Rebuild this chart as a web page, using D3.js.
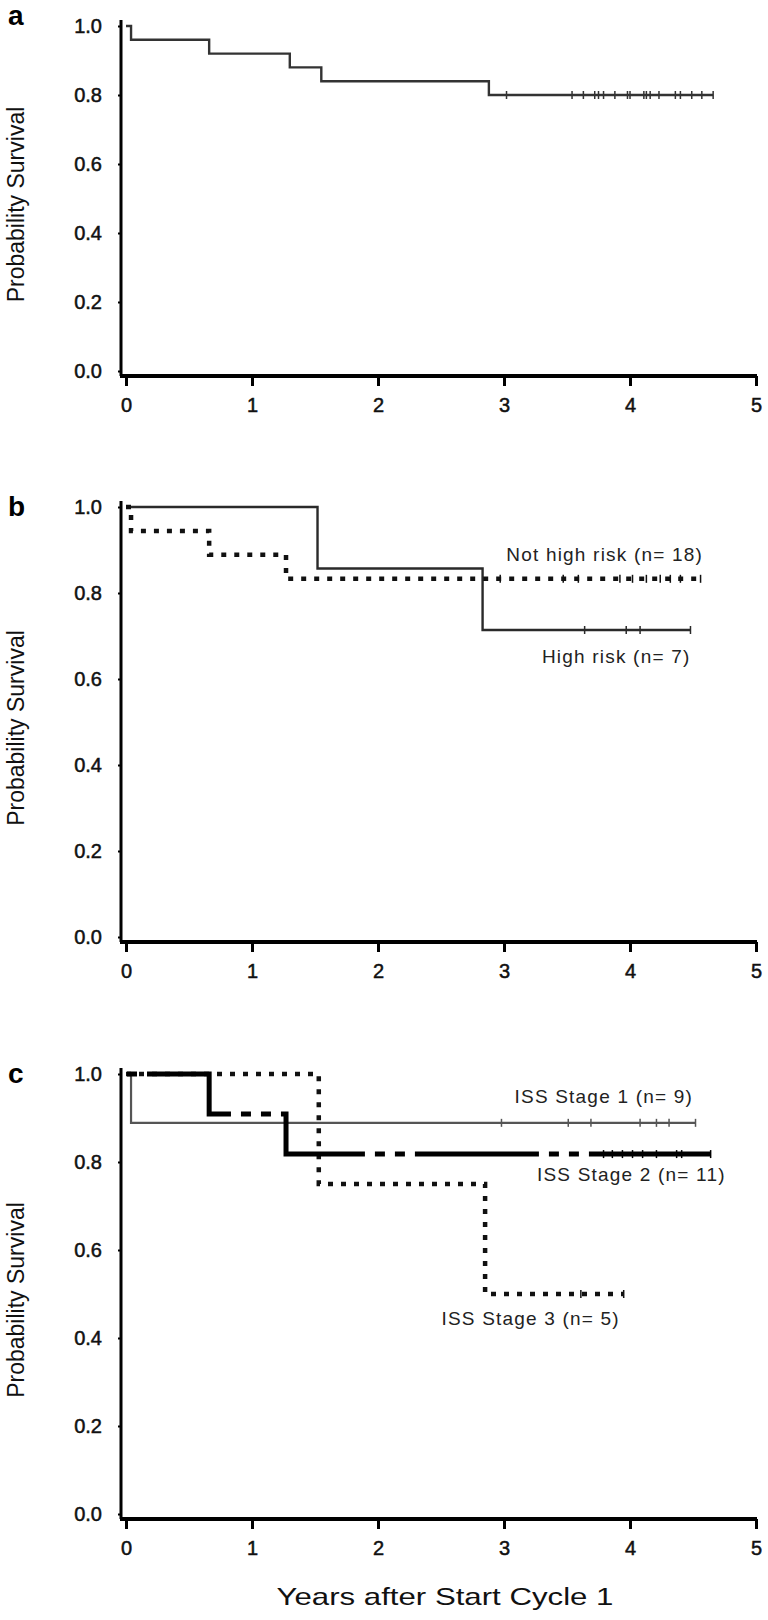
<!DOCTYPE html>
<html>
<head>
<meta charset="utf-8">
<script src="https://cdnjs.cloudflare.com/ajax/libs/d3/7.8.5/d3.min.js"></script>
<style>
  html, body { margin: 0; padding: 0; background: #fff; }
  svg { display: block; font-family: "Liberation Sans", Arial, sans-serif; }
</style>
</head>
<body>
<div id="chart"></div>
<script>
// Shared tick values
const yearTicks = [0, 1, 2, 3, 4, 5];
const probTicks = [0, 0.2, 0.4, 0.6, 0.8, 1.0];

// Panel a: all patients (n = 25)
const allTimes = [0, 0.04, 0.66, 1.30, 1.55, 2.88, 4.66];
const allSurv = [1, 0.96, 0.92, 0.88, 0.84, 0.80, 0.80];
const allCensored = [3.02, 3.54, 3.63, 3.72, 3.75, 3.79, 3.88, 3.98, 4.00, 4.11, 4.13, 4.16, 4.23, 4.36, 4.40, 4.49, 4.57, 4.66];

// Panel b: risk groups
const notHighTimes = [0, 0.04, 0.66, 1.27, 4.56];
const notHighSurv = [1, 0.944, 0.889, 0.833, 0.833];
const notHighCensored = [2.97, 3.47, 3.59, 3.92, 4.02, 4.13, 4.24, 4.32, 4.40, 4.56];
const highTimes = [0, 1.52, 2.83, 4.48];
const highSurv = [1, 0.857, 0.714, 0.714];
const highCensored = [3.64, 3.97, 4.08, 4.48];

// Panel c: ISS stage
const iss1Times = [0, 0.04, 4.52];
const iss1Surv = [1, 0.889, 0.889];
const iss1Censored = [2.98, 3.51, 3.69, 4.08, 4.21, 4.31, 4.52];
const iss2Times = [0, 0.66, 1.27, 4.64];
const iss2Surv = [1, 0.909, 0.818, 0.818];
const iss2Censored = [3.79, 3.86, 3.94, 4.02, 4.10, 4.21, 4.37, 4.41, 4.64];
const iss3Times = [0, 1.53, 2.85, 3.95];
const iss3Surv = [1, 0.75, 0.5, 0.5];
const iss3Censored = [3.61, 3.95];

function zipCurve(times, surv) {
    return times.map((t, i) => ({ t: t, s: surv[i] }));
}

function survAt(curve, t) {
    let s = curve[0].s;
    curve.forEach(d => { if (d.t <= t) s = d.s; });
    return s;
}

const panels = [
    {
        letter: 'a', letterDy: -1, top: 26, bottom: 371, xTitle: false,
        series: [
            { curve: zipCurve(allTimes, allSurv), censored: allCensored, stroke: '#333', width: 2.4, dash: null }
        ],
        labels: []
    },
    {
        letter: 'b', letterDy: 9, top: 507, bottom: 937, xTitle: false,
        series: [
            { curve: zipCurve(highTimes, highSurv), censored: highCensored, stroke: '#2a2a2a', width: 2.4, dash: null },
            { curve: zipCurve(notHighTimes, notHighSurv), censored: notHighCensored, stroke: '#111', width: 4.5, dash: '5,8' }
        ],
        labels: [
            { text: 'Not high risk (n= 18)', t: 4.58, s: 0.885 },
            { text: 'High risk (n= 7)', t: 4.48, s: 0.65 }
        ]
    },
    {
        letter: 'c', letterDy: 9, top: 1074, bottom: 1514, xTitle: true,
        series: [
            { curve: zipCurve(iss1Times, iss1Surv), censored: iss1Censored, stroke: '#555', width: 2.2, dash: null },
            { curve: zipCurve(iss3Times, iss3Surv), censored: iss3Censored, stroke: '#111', width: 4.5, dash: '5,8' },
            { curve: zipCurve(iss2Times, iss2Surv), censored: iss2Censored, stroke: '#000', width: 5, dash: '124,10,10,10,10,10', offset: 153 }
        ],
        labels: [
            { text: 'ISS Stage 1 (n= 9)', t: 4.50, s: 0.945 },
            { text: 'ISS Stage 2 (n= 11)', t: 4.76, s: 0.768 },
            { text: 'ISS Stage 3 (n= 5)', t: 3.92, s: 0.44 }
        ]
    }
];

const width = 768, height = 1620;
const svg = d3.select('#chart').append('svg')
    .attr('width', width)
    .attr('height', height);

const x = d3.scaleLinear().domain([0, 5]).range([126, 756]);

panels.forEach(p => {
    const y = d3.scaleLinear().domain([0, 1]).range([p.bottom, p.top]);
    const g = svg.append('g');

    // Y axis
    const yAxis = g.append('g')
        .attr('transform', `translate(${x(0) - 5},0)`)
        .call(d3.axisLeft(y).tickValues(probTicks).tickFormat(d3.format('.1f'))
            .tickSize(3).tickSizeOuter(0).tickPadding(16));
    yAxis.select('.domain').remove();
    yAxis.selectAll('.tick line').attr('stroke', '#000').attr('stroke-width', 2);
    yAxis.selectAll('.tick text')
        .attr('fill', '#111')
        .attr('stroke', '#111')
        .attr('stroke-width', 0.5)
        .style('font-size', '20px');
    yAxis.append('line')
        .attr('y1', y(1) - 6).attr('y2', y(0) + 5)
        .attr('stroke', '#000').attr('stroke-width', 3);

    // X axis
    const xAxis = g.append('g')
        .attr('transform', `translate(0,${y(0) + 5})`)
        .call(d3.axisBottom(x).tickValues(yearTicks).tickFormat(d3.format('d'))
            .tickSize(10).tickSizeOuter(0).tickPadding(12));
    xAxis.select('.domain').remove();
    xAxis.selectAll('.tick line').attr('stroke', '#000').attr('stroke-width', 3);
    xAxis.selectAll('.tick text')
        .attr('fill', '#111')
        .attr('stroke', '#111')
        .attr('stroke-width', 0.5)
        .style('font-size', '20px');
    xAxis.append('line')
        .attr('x1', x(0) - 6).attr('x2', x(5) + 1)
        .attr('stroke', '#000').attr('stroke-width', 4);

    // Panel letter
    g.append('text')
        .attr('x', 8)
        .attr('y', y(1) + p.letterDy)
        .style('font-size', '28px')
        .style('font-weight', 'bold')
        .attr('fill', '#000')
        .text(p.letter);

    // Y axis title
    g.append('text')
        .attr('transform', `translate(18,${(y(0) + y(1)) / 2 + 6}) rotate(-90)`)
        .attr('text-anchor', 'middle')
        .attr('dominant-baseline', 'middle')
        .style('font-size', '23px')
        .attr('fill', '#111')
        .text('Probability Survival');

    // Survival curves
    const line = d3.line()
        .x(d => x(d.t))
        .y(d => y(d.s))
        .curve(d3.curveStepAfter);

    p.series.forEach(s => {
        g.append('path')
            .datum(s.curve)
            .attr('d', line)
            .attr('fill', 'none')
            .attr('stroke', s.stroke)
            .attr('stroke-width', s.width)
            .attr('stroke-dasharray', s.dash)
            .attr('stroke-dashoffset', s.offset || 0);

        g.selectAll(null)
            .data(s.censored)
            .enter().append('line')
            .attr('x1', d => x(d)).attr('x2', d => x(d))
            .attr('y1', d => y(survAt(s.curve, d)) - 4)
            .attr('y2', d => y(survAt(s.curve, d)) + 4)
            .attr('stroke', s.stroke)
            .attr('stroke-width', 1.5);
    });

    // Group labels
    g.selectAll(null)
        .data(p.labels)
        .enter().append('text')
        .attr('x', d => x(d.t))
        .attr('y', d => y(d.s))
        .attr('text-anchor', 'end')
        .attr('dominant-baseline', 'middle')
        .style('font-size', '19px')
        .style('letter-spacing', '1.2px')
        .attr('fill', '#222')
        .text(d => d.text);

    // X axis title (wide, as in the original figure)
    if (p.xTitle) {
        g.append('text')
            .attr('transform', `translate(445,${y(0) + 91}) scale(1.3,1)`)
            .attr('text-anchor', 'middle')
            .style('font-size', '24px')
            .attr('fill', '#111')
            .text('Years after Start Cycle 1');
    }
});
</script>
</body>
</html>
